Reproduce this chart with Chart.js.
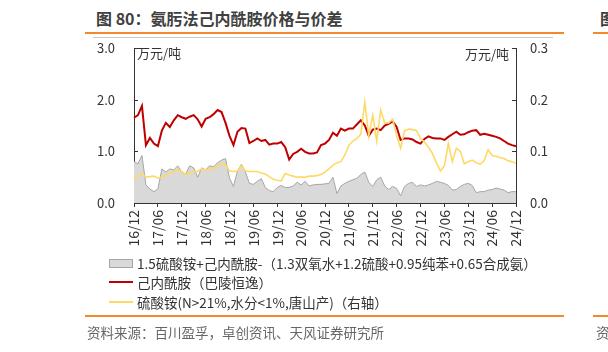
<!DOCTYPE html>
<html>
<head>
<meta charset="utf-8">
<script src="https://cdn.jsdelivr.net/npm/chart.js@4.4.1/dist/chart.umd.min.js"></script>
<style>
  html, body { margin: 0; padding: 0; background: #fff; }
  body { width: 608px; height: 352px; position: relative; overflow: hidden;
         font-family: "Noto Sans CJK SC", "Noto Sans", sans-serif; color: #333; }
  .abs { position: absolute; white-space: nowrap; }
  .rule { position: absolute; height: 2px; background: #f28a2c; }
  #chartBox { position: absolute; left: 70px; top: 40px; }
  .legend-row { position: absolute; left: 109px; height: 18px; font-size: 13.5px; line-height: 18px; }
  .legend-row span.txt { position: absolute; left: 28px; top: 0; white-space: nowrap; }
  .sw { position: absolute; left: 0; }
</style>
</head>
<body>
<div class="abs" style="left:96px; top:7px; font-size:16px; line-height:22px; font-weight:bold; color:#404040;">图 80：氨肟法己内酰胺价格与价差</div>
<div class="abs" style="left:600px; top:7px; font-size:16px; line-height:22px; font-weight:bold; color:#404040;">图</div>
<div class="rule" style="left:85px; top:32px; width:479px;"></div>
<div class="rule" style="left:593px; top:32px; width:20px;"></div>
<div class="abs" style="left:93px; top:37px; width:460px; height:1px; background:#c8c8c8;"></div>

<div id="chartBox"><canvas id="spreadChart" width="500" height="216"></canvas></div>

<div class="abs" style="left:137px; top:44px; font-size:13px; line-height:17px;">万元/吨</div>
<div class="abs" style="left:465px; top:45px; font-size:13px; line-height:17px;">万元/吨</div>

<div class="legend-row" style="top:254px;">
  <div class="sw" style="top:5px; width:22px; height:7px; background:#d9d9d9; border:1px solid #a6a6a6;"></div>
  <span class="txt">1.5硫酸铵+己内酰胺-（1.3双氧水+1.2硫酸+0.95纯苯+0.65合成氨）</span>
</div>
<div class="legend-row" style="top:273px;">
  <div class="sw" style="top:8px; width:24px; height:2px; background:#c00000;"></div>
  <span class="txt">己内酰胺（巴陵恒逸）</span>
</div>
<div class="legend-row" style="top:293px;">
  <div class="sw" style="top:8px; width:24px; height:2px; background:#ffd966;"></div>
  <span class="txt">硫酸铵(N&gt;21%,水分&lt;1%,唐山产)（右轴）</span>
</div>

<div class="rule" style="left:85px; top:315px; width:479px;"></div>
<div class="rule" style="left:593px; top:315px; width:20px;"></div>
<div class="abs" style="left:87px; top:323px; font-size:13.5px; line-height:18px; color:#666;">资料来源：百川盈孚，卓创资讯、天风证券研究所</div>
<div class="abs" style="left:596px; top:323px; font-size:13.5px; line-height:18px; color:#666;">资</div>

<script>
// 月度数据 2016/12 - 2024/12（97个点）
const tickLabels = ["16/12", "17/06", "17/12", "18/06", "18/12", "19/06", "19/12", "20/06",
  "20/12", "21/06", "21/12", "22/06", "22/12", "23/06", "23/12", "24/06", "24/12"];

// 价差（万元/吨，左轴）
const spread = [
  0.80, 0.76, 0.92, 0.35, 0.27, 0.22, 0.27, 0.66, 0.60, 0.66,
  0.64, 0.72, 0.60, 0.56, 0.72, 0.68, 0.50, 0.68, 0.64, 0.72,
  0.70, 0.78, 0.83, 0.86, 0.48, 0.32, 0.62, 0.75, 0.60, 0.38,
  0.36, 0.42, 0.47, 0.30, 0.24, 0.22, 0.30, 0.34, 0.30, 0.30,
  0.33, 0.40, 0.35, 0.42, 0.33, 0.35, 0.36, 0.36, 0.37, 0.38,
  0.50, 0.18, 0.33, 0.38, 0.42, 0.45, 0.48, 0.55, 0.60, 0.40,
  0.32, 0.45, 0.50, 0.33, 0.26, 0.32, 0.28, 0.14, 0.32, 0.38,
  0.40, 0.32, 0.35, 0.33, 0.35, 0.38, 0.42, 0.40, 0.38, 0.34,
  0.25, 0.26, 0.32, 0.36, 0.38, 0.34, 0.20, 0.22, 0.22, 0.25,
  0.26, 0.29, 0.27, 0.25, 0.20, 0.22, 0.22
];

// 己内酰胺（巴陵恒逸），万元/吨，左轴
const caprolactam = [
  1.65, 1.70, 1.88, 1.12, 1.26, 1.15, 1.10, 1.40, 1.55, 1.47,
  1.60, 1.70, 1.66, 1.63, 1.67, 1.70, 1.62, 1.48, 1.63, 1.66,
  1.72, 1.80, 1.76, 1.55, 1.30, 1.12, 1.38, 1.45, 1.44, 1.16,
  1.20, 1.25, 1.20, 1.22, 1.13, 1.15, 1.15, 1.18, 1.08, 0.84,
  0.95, 0.99, 1.05, 0.99, 0.96, 0.96, 0.98, 1.12, 1.15, 1.22,
  1.36, 1.30, 1.44, 1.40, 1.44, 1.44, 1.52, 1.60, 1.50, 1.30,
  1.42, 1.44, 1.41, 1.50, 1.53, 1.58, 1.47, 1.22, 1.25, 1.25,
  1.23, 1.18, 1.15, 1.24, 1.29, 1.26, 1.25, 1.25, 1.22, 1.28,
  1.33, 1.38, 1.32, 1.33, 1.37, 1.40, 1.41, 1.32, 1.34, 1.32,
  1.30, 1.28, 1.25, 1.20, 1.15, 1.12, 1.10
];

// 硫酸铵（唐山），万元/吨，右轴
const ammSulfate = [
  0.045, 0.052, 0.057, 0.050, 0.051, 0.052, 0.048, 0.050, 0.054, 0.058,
  0.060, 0.064, 0.061, 0.055, 0.058, 0.061, 0.061, 0.066, 0.064, 0.065,
  0.067, 0.072, 0.077, 0.074, 0.062, 0.061, 0.062, 0.072, 0.062, 0.061,
  0.061, 0.061, 0.058, 0.056, 0.051, 0.046, 0.044, 0.043, 0.057, 0.054,
  0.052, 0.050, 0.050, 0.050, 0.052, 0.052, 0.053, 0.055, 0.060, 0.066,
  0.073, 0.078, 0.080, 0.093, 0.112, 0.120, 0.125, 0.133, 0.195, 0.130,
  0.170, 0.120, 0.180, 0.155, 0.155, 0.162, 0.130, 0.106, 0.140, 0.143,
  0.142, 0.140, 0.125, 0.118, 0.108, 0.096, 0.078, 0.062, 0.072, 0.115,
  0.080, 0.106, 0.100, 0.076, 0.080, 0.083, 0.078, 0.075, 0.082, 0.103,
  0.092, 0.090, 0.088, 0.086, 0.082, 0.080, 0.077
];

// catégories : un point par mois
const months = [];
for (let i = 0; i < spread.length; i++) {
  const y = 16 + Math.floor((11 + i) / 12);
  const m = ((11 + i) % 12) + 1;
  months.push(y + "/" + String(m).padStart(2, "0"));
}

const axisColor = "#333";

// petits traits de graduation à l'intérieur des axes Y
const innerTicks = {
  id: "innerTicks",
  afterDraw(chart) {
    const ctx = chart.ctx;
    const area = chart.chartArea;
    ctx.save();
    ctx.strokeStyle = axisColor;
    ctx.lineWidth = 1;
    chart.scales.yL.ticks.forEach(t => {
      const y = Math.round(chart.scales.yL.getPixelForValue(t.value)) + 0.5;
      ctx.beginPath(); ctx.moveTo(area.left, y); ctx.lineTo(area.left + 4, y); ctx.stroke();
    });
    chart.scales.yR.ticks.forEach(t => {
      const y = Math.round(chart.scales.yR.getPixelForValue(t.value)) + 0.5;
      ctx.beginPath(); ctx.moveTo(area.right - 4, y); ctx.lineTo(area.right, y); ctx.stroke();
    });
    ctx.restore();
  }
};

// largeur fixe des axes Y, sans marge haute due au padding des ticks
function fixY(width) {
  return s => {
    s.width = width;
    s.paddingTop = 0;
    s.paddingBottom = 0;
  };
}

Chart.defaults.font.family = '"Noto Sans CJK SC", "Noto Sans", sans-serif';
Chart.defaults.font.size = 13;
Chart.defaults.color = "#333";

new Chart(document.getElementById("spreadChart").getContext("2d"), {
  type: "line",
  data: {
    labels: months,
    datasets: [
      {
        label: "硫酸铵",
        data: ammSulfate,
        yAxisID: "yR",
        borderColor: "#ffd966",
        borderWidth: 1.6,
        pointRadius: 0,
        fill: false,
        order: 0
      },
      {
        label: "己内酰胺",
        data: caprolactam,
        yAxisID: "yL",
        borderColor: "#c00000",
        borderWidth: 2,
        pointRadius: 0,
        fill: false,
        order: 1
      },
      {
        label: "价差",
        data: spread,
        yAxisID: "yL",
        borderColor: "#a6a6a6",
        backgroundColor: "#d9d9d9",
        borderWidth: 1,
        pointRadius: 0,
        fill: "origin",
        order: 2
      }
    ]
  },
  options: {
    responsive: false,
    maintainAspectRatio: false,
    animation: false,
    layout: { padding: { top: 8, left: 0, right: 0, bottom: 0 } },
    plugins: {
      legend: { display: false },
      tooltip: { enabled: false }
    },
    scales: {
      x: {
        offset: false,
        grid: {
          drawOnChartArea: false,
          drawTicks: true,
          tickLength: 4,
          color: c => (c.index % 6 === 0 ? axisColor : "rgba(0,0,0,0)")
        },
        border: { display: true, color: axisColor },
        ticks: {
          autoSkip: false,
          minRotation: 90,
          maxRotation: 90,
          padding: 3,
          font: { size: 14 },
          callback: (v, i) => (i % 6 === 0 ? tickLabels[i / 6] : "")
        },
        afterFit: s => { s.height = 53; }
      },
      yL: {
        position: "left",
        min: 0,
        max: 3,
        grid: { drawOnChartArea: false, drawTicks: false },
        border: { display: true, color: axisColor },
        ticks: { stepSize: 1, padding: 19, callback: v => v.toFixed(1) },
        afterFit: fixY(64)
      },
      yR: {
        position: "right",
        min: 0,
        max: 0.3,
        grid: { drawOnChartArea: false, drawTicks: false },
        border: { display: true, color: axisColor },
        ticks: { stepSize: 0.1, padding: 14, callback: v => v.toFixed(1) },
        afterFit: fixY(54)
      }
    }
  },
  plugins: [innerTicks]
});
</script>
</body>
</html>
